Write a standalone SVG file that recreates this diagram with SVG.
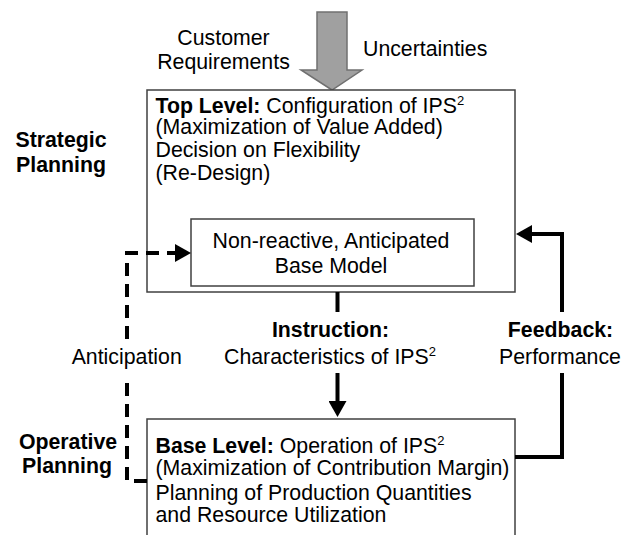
<svg xmlns="http://www.w3.org/2000/svg" width="623" height="535" viewBox="0 0 623 535">
  <style>
    text { font-family: "Liberation Sans", Arial, sans-serif; font-size: 21.3px; fill: #000; }
    .b { font-weight: bold; }
    .m { text-anchor: middle; }
    .sup { font-size: 13px; }
    .box { fill: #fff; stroke: #404040; stroke-width: 1.5; }
    .conn { fill: none; stroke: #000; stroke-width: 4; }
    .dash { stroke-dasharray: 13 8; }
  </style>
  <defs>
    <marker id="ah" viewBox="0 0 16 18" refX="0" refY="9" markerWidth="16" markerHeight="18" markerUnits="userSpaceOnUse" orient="auto">
      <path d="M0,0 L16,9 L0,18 z" fill="#000"/>
    </marker>
  </defs>

  <rect width="623" height="535" fill="#fff"/>

  <g id="input-arrow">
    <polygon points="317,12 347,12 347,70 362,70 332,90 301,70 317,70" fill="#a0a0a0" stroke="#707070" stroke-width="1.5"/>
    <text class="m" x="223.5" y="45">Customer</text>
    <text class="m" x="223.5" y="69">Requirements</text>
    <text x="363" y="56">Uncertainties</text>
  </g>

  <g id="strategic-label">
    <text class="b m" x="61" y="147">Strategic</text>
    <text class="b m" x="61" y="172">Planning</text>
  </g>

  <g id="top-level">
    <rect class="box" x="147" y="90" width="368" height="202"/>
    <text x="155.5" y="113"><tspan class="b">Top Level:</tspan> Configuration of IPS<tspan class="sup" dy="-8">2</tspan></text>
    <text x="155.5" y="134">(Maximization of Value Added)</text>
    <text x="155.5" y="157">Decision on Flexibility</text>
    <text x="155.5" y="180">(Re-Design)</text>
  </g>

  <g id="base-model">
    <rect class="box" x="191" y="219" width="283" height="67"/>
    <text class="m" x="331" y="248">Non-reactive, Anticipated</text>
    <text class="m" x="331" y="273">Base Model</text>
  </g>

  <g id="operative-label">
    <text class="b m" x="68" y="449">Operative</text>
    <text class="b m" x="67" y="473">Planning</text>
  </g>

  <g id="base-level">
    <rect class="box" x="147" y="419" width="368" height="140"/>
    <text x="155.5" y="453"><tspan class="b">Base Level:</tspan> Operation of IPS<tspan class="sup" dy="-8">2</tspan></text>
    <text x="155.5" y="475">(Maximization of Contribution Margin)</text>
    <text x="155.5" y="500">Planning of Production Quantities</text>
    <text x="155.5" y="522">and Resource Utilization</text>
  </g>

  <g id="connectors">
    <path class="conn" d="M337.5,292 V312"/>
    <path class="conn" d="M337.5,373 V401" marker-end="url(#ah)"/>
    <path class="conn" d="M515,457 H562 V373"/>
    <path class="conn" d="M562,312 V234 H532" marker-end="url(#ah)"/>
    <path class="conn dash" d="M147,481 H127 V377"/>
    <path class="conn dash" d="M127,339 V253 H175" marker-end="url(#ah)"/>
  </g>

  <g id="connector-labels">
    <text class="b m" x="330.5" y="337">Instruction:</text>
    <text class="m" x="330" y="364">Characteristics of IPS<tspan class="sup" dy="-8">2</tspan></text>
    <text class="b m" x="560.5" y="337">Feedback:</text>
    <text class="m" x="560" y="364">Performance</text>
    <text class="m" x="126.7" y="364">Anticipation</text>
  </g>
</svg>
